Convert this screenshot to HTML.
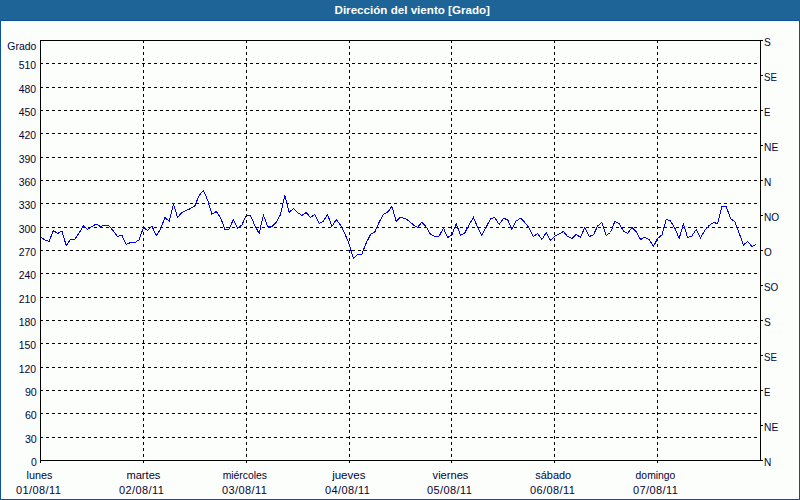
<!DOCTYPE html>
<html lang="es"><head><meta charset="utf-8"><title>Dirección del viento [Grado]</title>
<style>html,body{margin:0;padding:0;background:#fff;}body{width:800px;height:500px;overflow:hidden;}svg{display:block;font-family:"Liberation Sans",sans-serif;font-size:11px;}.l{fill:#040436}.g{stroke:#000;stroke-width:1;stroke-dasharray:3 3;shape-rendering:crispEdges;fill:none}.ax{stroke:#000;stroke-width:1;shape-rendering:crispEdges;fill:none}</style></head><body>
<svg width="800" height="500" viewBox="0 0 800 500">
<rect x="0" y="0" width="800" height="500" fill="#0b5394"/>
<rect x="0" y="0" width="800" height="20" fill="#1e6496"/>
<rect x="1" y="21" width="798" height="478" fill="#ffffff"/>
<rect x="2" y="22" width="796" height="476" fill="#fcfefb"/>
<text x="334.5" y="14" fill="#fff" font-weight="bold" textLength="155.5" lengthAdjust="spacingAndGlyphs">Dirección del viento [Grado]</text>
<line class="g" x1="40" x2="758" y1="437.5" y2="437.5"/>
<line class="g" x1="40" x2="758" y1="413.5" y2="413.5"/>
<line class="g" x1="40" x2="758" y1="390.5" y2="390.5"/>
<line class="g" x1="40" x2="758" y1="367.5" y2="367.5"/>
<line class="g" x1="40" x2="758" y1="343.5" y2="343.5"/>
<line class="g" x1="40" x2="758" y1="320.5" y2="320.5"/>
<line class="g" x1="40" x2="758" y1="297.5" y2="297.5"/>
<line class="g" x1="40" x2="758" y1="273.5" y2="273.5"/>
<line class="g" x1="40" x2="758" y1="250.5" y2="250.5"/>
<line class="g" x1="40" x2="758" y1="227.5" y2="227.5"/>
<line class="g" x1="40" x2="758" y1="203.5" y2="203.5"/>
<line class="g" x1="40" x2="758" y1="180.5" y2="180.5"/>
<line class="g" x1="40" x2="758" y1="157.5" y2="157.5"/>
<line class="g" x1="40" x2="758" y1="133.5" y2="133.5"/>
<line class="g" x1="40" x2="758" y1="110.5" y2="110.5"/>
<line class="g" x1="40" x2="758" y1="87.5" y2="87.5"/>
<line class="g" x1="40" x2="758" y1="63.5" y2="63.5"/>
<line class="g" y1="40" y2="458" x1="143.5" x2="143.5"/>
<line class="ax" y1="460" y2="463" x1="143.5" x2="143.5"/>
<line class="g" y1="40" y2="458" x1="246.5" x2="246.5"/>
<line class="ax" y1="460" y2="463" x1="246.5" x2="246.5"/>
<line class="g" y1="40" y2="458" x1="349.5" x2="349.5"/>
<line class="ax" y1="460" y2="463" x1="349.5" x2="349.5"/>
<line class="g" y1="40" y2="458" x1="451.5" x2="451.5"/>
<line class="ax" y1="460" y2="463" x1="451.5" x2="451.5"/>
<line class="g" y1="40" y2="458" x1="554.5" x2="554.5"/>
<line class="ax" y1="460" y2="463" x1="554.5" x2="554.5"/>
<line class="g" y1="40" y2="458" x1="657.5" x2="657.5"/>
<line class="ax" y1="460" y2="463" x1="657.5" x2="657.5"/>
<rect class="ax" x="40.5" y="40.5" width="720" height="420"/>
<line class="ax" x1="40.5" x2="40.5" y1="460" y2="463"/>
<line class="ax" x1="760" x2="763" y1="40.5" y2="40.5"/>
<text class="l" x="764" y="46" textLength="6.8" lengthAdjust="spacingAndGlyphs">S</text>
<line class="ax" x1="760" x2="763" y1="75.5" y2="75.5"/>
<text class="l" x="764" y="81" textLength="12.9" lengthAdjust="spacingAndGlyphs">SE</text>
<line class="ax" x1="760" x2="763" y1="110.5" y2="110.5"/>
<text class="l" x="764" y="116" textLength="6.4" lengthAdjust="spacingAndGlyphs">E</text>
<line class="ax" x1="760" x2="763" y1="145.5" y2="145.5"/>
<text class="l" x="764" y="151" textLength="14.2" lengthAdjust="spacingAndGlyphs">NE</text>
<line class="ax" x1="760" x2="763" y1="180.5" y2="180.5"/>
<text class="l" x="764" y="186" textLength="7.3" lengthAdjust="spacingAndGlyphs">N</text>
<line class="ax" x1="760" x2="763" y1="215.5" y2="215.5"/>
<text class="l" x="764" y="221" textLength="15.2" lengthAdjust="spacingAndGlyphs">NO</text>
<line class="ax" x1="760" x2="763" y1="250.5" y2="250.5"/>
<text class="l" x="764" y="256" textLength="7.8" lengthAdjust="spacingAndGlyphs">O</text>
<line class="ax" x1="760" x2="763" y1="285.5" y2="285.5"/>
<text class="l" x="764" y="291" textLength="14.3" lengthAdjust="spacingAndGlyphs">SO</text>
<line class="ax" x1="760" x2="763" y1="320.5" y2="320.5"/>
<text class="l" x="764" y="326" textLength="6.8" lengthAdjust="spacingAndGlyphs">S</text>
<line class="ax" x1="760" x2="763" y1="355.5" y2="355.5"/>
<text class="l" x="764" y="361" textLength="12.9" lengthAdjust="spacingAndGlyphs">SE</text>
<line class="ax" x1="760" x2="763" y1="390.5" y2="390.5"/>
<text class="l" x="764" y="396" textLength="6.4" lengthAdjust="spacingAndGlyphs">E</text>
<line class="ax" x1="760" x2="763" y1="425.5" y2="425.5"/>
<text class="l" x="764" y="431" textLength="14.2" lengthAdjust="spacingAndGlyphs">NE</text>
<line class="ax" x1="760" x2="763" y1="460.5" y2="460.5"/>
<text class="l" x="764" y="466" textLength="7.3" lengthAdjust="spacingAndGlyphs">N</text>
<text class="l" x="36.3" y="50" text-anchor="end" textLength="29" lengthAdjust="spacingAndGlyphs">Grado</text>
<text class="l" x="36.8" y="466" text-anchor="end" textLength="5.8" lengthAdjust="spacingAndGlyphs">0</text>
<text class="l" x="36.8" y="443" text-anchor="end" textLength="11.9" lengthAdjust="spacingAndGlyphs">30</text>
<text class="l" x="36.8" y="419" text-anchor="end" textLength="11.9" lengthAdjust="spacingAndGlyphs">60</text>
<text class="l" x="36.8" y="396" text-anchor="end" textLength="11.9" lengthAdjust="spacingAndGlyphs">90</text>
<text class="l" x="36.1" y="373" text-anchor="end" textLength="17.4" lengthAdjust="spacingAndGlyphs">120</text>
<text class="l" x="36.1" y="349" text-anchor="end" textLength="17.4" lengthAdjust="spacingAndGlyphs">150</text>
<text class="l" x="36.1" y="326" text-anchor="end" textLength="17.4" lengthAdjust="spacingAndGlyphs">180</text>
<text class="l" x="36.1" y="303" text-anchor="end" textLength="17.4" lengthAdjust="spacingAndGlyphs">210</text>
<text class="l" x="36.1" y="279" text-anchor="end" textLength="17.4" lengthAdjust="spacingAndGlyphs">240</text>
<text class="l" x="36.1" y="256" text-anchor="end" textLength="17.4" lengthAdjust="spacingAndGlyphs">270</text>
<text class="l" x="36.1" y="233" text-anchor="end" textLength="17.4" lengthAdjust="spacingAndGlyphs">300</text>
<text class="l" x="36.1" y="209" text-anchor="end" textLength="17.4" lengthAdjust="spacingAndGlyphs">330</text>
<text class="l" x="36.1" y="186" text-anchor="end" textLength="17.4" lengthAdjust="spacingAndGlyphs">360</text>
<text class="l" x="36.1" y="163" text-anchor="end" textLength="17.4" lengthAdjust="spacingAndGlyphs">390</text>
<text class="l" x="36.1" y="139" text-anchor="end" textLength="17.4" lengthAdjust="spacingAndGlyphs">420</text>
<text class="l" x="36.1" y="116" text-anchor="end" textLength="17.4" lengthAdjust="spacingAndGlyphs">450</text>
<text class="l" x="36.1" y="93" text-anchor="end" textLength="17.4" lengthAdjust="spacingAndGlyphs">480</text>
<text class="l" x="36.1" y="69" text-anchor="end" textLength="17.4" lengthAdjust="spacingAndGlyphs">510</text>
<text class="l" x="39.5" y="479" text-anchor="middle" textLength="25.8" lengthAdjust="spacingAndGlyphs">lunes</text>
<text class="l" x="38.4" y="494" text-anchor="middle" textLength="45" lengthAdjust="spacing">01/08/11</text>
<text class="l" x="143.4" y="479" text-anchor="middle" textLength="34.0" lengthAdjust="spacingAndGlyphs">martes</text>
<text class="l" x="141.4" y="494" text-anchor="middle" textLength="45" lengthAdjust="spacing">02/08/11</text>
<text class="l" x="244.8" y="479" text-anchor="middle" textLength="44.3" lengthAdjust="spacingAndGlyphs">miércoles</text>
<text class="l" x="244.4" y="494" text-anchor="middle" textLength="45" lengthAdjust="spacing">03/08/11</text>
<text class="l" x="348.8" y="479" text-anchor="middle" textLength="33.3" lengthAdjust="spacingAndGlyphs">jueves</text>
<text class="l" x="347.4" y="494" text-anchor="middle" textLength="45" lengthAdjust="spacing">04/08/11</text>
<text class="l" x="450.5" y="479" text-anchor="middle" textLength="35.8" lengthAdjust="spacingAndGlyphs">viernes</text>
<text class="l" x="449.4" y="494" text-anchor="middle" textLength="45" lengthAdjust="spacing">05/08/11</text>
<text class="l" x="553.2" y="479" text-anchor="middle" textLength="35.8" lengthAdjust="spacingAndGlyphs">sábado</text>
<text class="l" x="552.4" y="494" text-anchor="middle" textLength="45" lengthAdjust="spacing">06/08/11</text>
<text class="l" x="655.5" y="479" text-anchor="middle" textLength="39.8" lengthAdjust="spacingAndGlyphs">domingo</text>
<text class="l" x="655.4" y="494" text-anchor="middle" textLength="45" lengthAdjust="spacing">07/08/11</text>
<polyline points="40.5,237.0 44.8,240.0 49.1,241.5 53.4,230.5 57.6,233.5 61.9,231.0 66.2,245.5 70.5,239.5 74.8,239.5 79.1,233.0 83.4,226.0 87.6,229.5 91.9,226.5 96.2,224.0 100.5,226.5 104.8,225.0 109.1,226.0 113.4,231.0 117.6,236.5 121.9,235.2 126.2,244.5 130.5,242.5 134.8,242.5 139.1,240.0 143.4,227.5 147.6,230.5 151.9,226.2 156.2,235.5 160.5,229.5 164.8,217.5 169.1,221.2 173.4,204.0 177.6,217.5 181.9,212.5 186.2,210.5 190.5,208.5 194.8,206.0 199.1,195.5 203.4,190.5 207.6,200.0 211.9,214.2 216.2,211.5 220.5,217.5 224.8,229.0 229.1,229.0 233.4,219.5 237.6,228.2 241.9,225.0 246.2,215.5 250.5,215.5 254.8,225.5 259.1,233.5 263.4,215.0 267.6,226.5 271.9,226.5 276.2,222.5 280.5,214.5 284.8,195.5 289.1,212.5 293.4,208.5 297.6,212.5 301.9,215.5 306.2,212.5 310.5,217.5 314.8,214.5 319.1,223.5 323.4,221.0 327.6,214.5 331.9,226.5 336.2,219.5 340.5,225.0 344.8,233.5 349.1,244.0 353.4,258.5 357.6,254.5 361.9,254.0 366.2,243.0 370.5,234.5 374.8,232.0 379.1,222.3 383.4,214.2 387.6,212.2 391.9,206.5 396.2,221.5 400.5,217.2 404.8,218.5 409.1,221.0 413.4,225.0 417.6,227.2 421.9,222.2 426.2,227.0 430.5,234.2 434.8,236.2 439.1,236.2 443.4,228.0 447.6,237.5 451.9,235.0 456.2,223.5 460.5,235.5 464.8,233.0 469.1,224.5 473.4,217.5 477.6,227.0 481.9,235.5 486.2,227.0 490.5,219.0 494.8,217.5 499.1,224.5 503.4,218.5 507.6,219.5 511.9,229.5 516.2,221.0 520.5,218.2 524.8,222.5 529.1,228.0 533.4,236.5 537.6,233.5 541.9,239.5 546.2,232.5 550.5,240.5 554.8,236.0 559.1,234.0 563.4,231.5 567.6,236.5 571.9,238.5 576.2,234.5 580.5,237.2 584.8,227.5 589.1,236.5 593.4,235.0 597.6,226.0 601.9,222.5 606.2,235.5 610.5,232.5 614.8,221.5 619.1,223.5 623.4,231.0 627.6,233.5 631.9,227.5 636.2,231.5 640.5,239.5 644.8,237.2 649.1,239.5 653.4,246.5 657.6,238.5 661.9,235.0 666.2,219.5 670.5,221.0 674.8,228.0 679.1,238.5 683.4,224.0 687.6,237.5 691.9,236.0 696.2,229.5 700.5,237.8 704.8,230.3 709.1,225.5 713.4,222.5 717.6,223.5 721.9,206.5 726.2,206.5 730.5,218.5 734.8,221.5 739.1,233.0 743.4,245.0 747.6,241.5 751.9,246.5 756.2,244.2" fill="none" stroke="#0000f0" stroke-width="1" shape-rendering="crispEdges"/>
</svg></body></html>
